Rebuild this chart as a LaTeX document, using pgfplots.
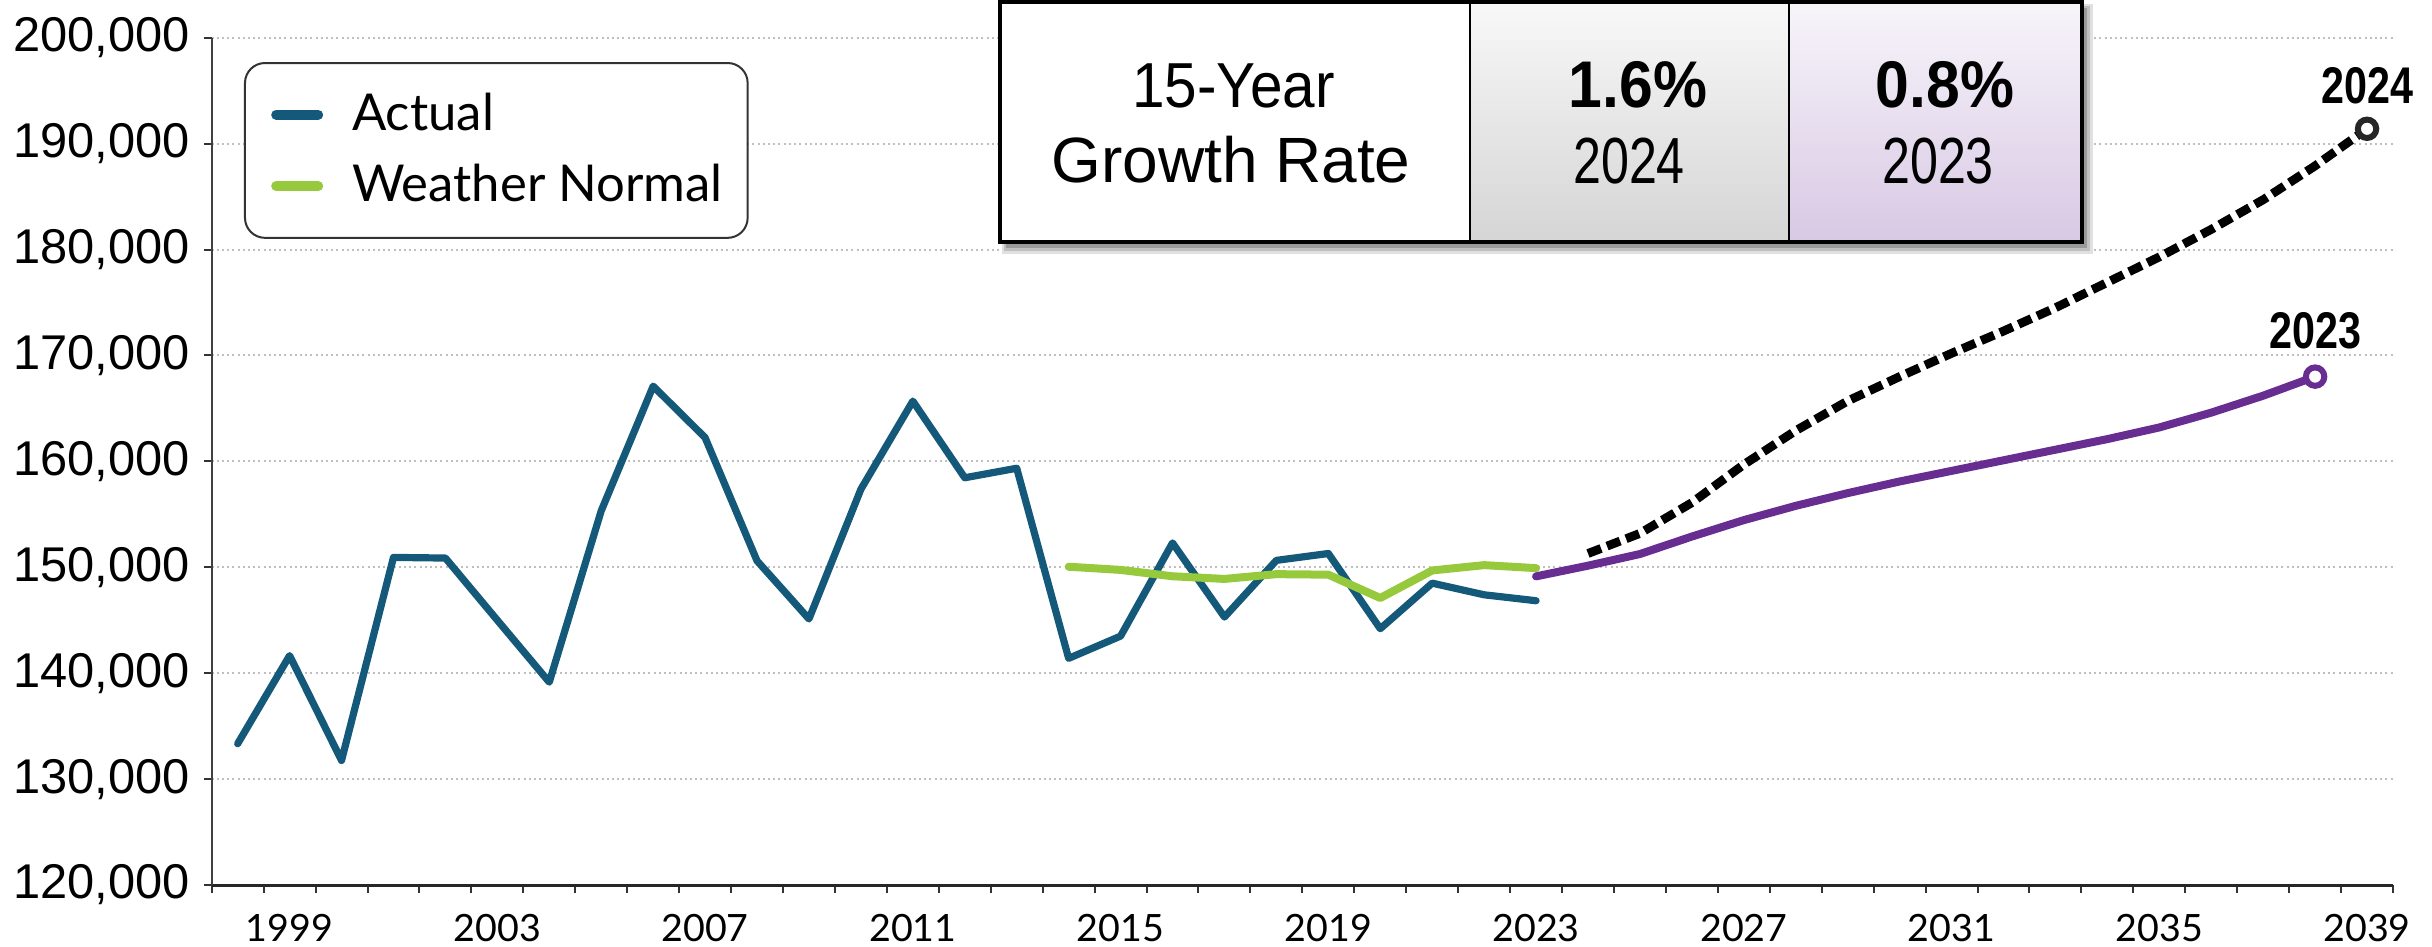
\documentclass[border=0pt]{standalone}
\usepackage{fontspec}
\setmainfont{Liberation Sans}
\newfontfamily\latofont{Lato}
\newfontfamily\condbold[FakeStretch=0.8]{Liberation Sans Bold}
\newfontfamily\narrowfont[FakeStretch=0.77]{Liberation Sans}
\newfontfamily\semifont[FakeStretch=0.92]{Liberation Sans}
\usepackage{pgfplots}
\pgfplotsset{compat=1.18}
\definecolor{actual}{RGB}{20,89,122}
\definecolor{wnormal}{RGB}{151,201,61}
\definecolor{fcpurple}{RGB}{104,45,145}
\definecolor{ctop}{RGB}{248,248,248}
\definecolor{cbot}{RGB}{213,213,213}
\definecolor{ptop}{RGB}{247,245,250}
\definecolor{pbot}{RGB}{216,200,228}
\begin{document}
\begin{tikzpicture}
\useasboundingbox (0,0) rectangle (608pt,236.5pt);
\begin{axis}[
  at={(52.925pt,15.25pt)}, anchor=south west,
  scale only axis, width=545.33pt, height=211.83pt,
  xmin=1997.5, xmax=2039.5, ymin=120000, ymax=200000,
  axis x line*=bottom, axis y line*=left,
  x axis line style={-, line width=0.75pt, color=black!85},
  y axis line style={-, line width=0.5pt, color=black!75},
  xtick={1997.5,1998.5,1999.5,2000.5,2001.5,2002.5,2003.5,2004.5,2005.5,2006.5,2007.5,2008.5,2009.5,2010.5,2011.5,2012.5,2013.5,2014.5,2015.5,2016.5,2017.5,2018.5,2019.5,2020.5,2021.5,2022.5,2023.5,2024.5,2025.5,2026.5,2027.5,2028.5,2029.5,2030.5,2031.5,2032.5,2033.5,2034.5,2035.5,2036.5,2037.5,2038.5,2039.5},
  xticklabels={},
  extra x ticks={1999,2003,2007,2011,2015,2019,2023,2027,2031,2035,2039},
  extra x tick labels={1999,2003,2007,2011,2015,2019,2023,2027,2031,2035,2039},
  extra x tick style={major tick length=0pt, tick label style={font=\latofont\fontsize{9.4}{11}\selectfont, yshift=-3.9pt}},
  ytick={120000,130000,140000,150000,160000,170000,180000,190000,200000},
  yticklabels={{120,000},{130,000},{140,000},{150,000},{160,000},{170,000},{180,000},{190,000},{200,000}},
  tick align=outside,
  major tick length=2pt,
  tick style={line width=0.5pt, color=black!80},
  ymajorgrids,
  major grid style={line width=0.5pt, color=black!25, dash pattern=on 0.5pt off 0.8pt},
  scaled y ticks=false,
  yticklabel style={font=\fontsize{12.2}{14}\selectfont},
  clip=false,
  legend style={at={(0.0148,0.9713)}, anchor=north west, draw=black!80, line width=0.5pt,
    rounded corners=5pt, inner xsep=4.2pt, inner ysep=5.5pt,
    font=\latofont\fontsize{12.7}{14.5}\selectfont, row sep=3pt, fill=white},
  legend cell align=left,
  legend image code/.code={\path[draw=none] (0pt,0pt) -- (20.6pt,0pt); \draw[line width=2.5pt, line cap=round, solid] (3.6pt,0pt) -- (14.1pt,0pt);},
]
\addplot[actual, line width=1.8pt, line join=round, line cap=round] table {
x y
1998 133340
1999 141660
2000 131760
2001 150930
2002 150870
2003 145000
2004 139150
2005 155330
2006 167100
2007 162240
2008 150610
2009 145120
2010 157370
2011 165690
2012 158450
2013 159350
2014 141400
2015 143500
2016 152300
2017 145300
2018 150650
2019 151300
2020 144200
2021 148500
2022 147400
2023 146840
};
\addlegendentry{Actual}
\addplot[wnormal, line width=2pt, line join=round, line cap=round] table {
x y
2014 150050
2015 149750
2016 149150
2017 148900
2018 149350
2019 149300
2020 147100
2021 149700
2022 150200
2023 149920
};
\addlegendentry{Weather Normal}
\addplot[fcpurple, line width=2pt, line join=round, line cap=round, forget plot] table {
x y
2023 149140
2024 150150
2025 151250
2026 152900
2027 154450
2028 155800
2029 157000
2030 158100
2031 159100
2032 160100
2033 161100
2034 162100
2035 163200
2036 164600
2037 166200
2038 168000
};
\addplot[black, line width=2.2pt, dash pattern=on 3.5pt off 1.6pt, forget plot] table {
x y
2024 151300
2025 153200
2026 156100
2027 159700
2028 162900
2029 165700
2030 168000
2031 170200
2032 172300
2033 174500
2034 176900
2035 179300
2036 181900
2037 184700
2038 187900
2039 191400
};
\addplot[only marks, mark=*, mark size=2.3pt, mark options={fill=white, draw=fcpurple, line width=1.5pt, solid}, forget plot] coordinates {(2038,168000)};
\addplot[only marks, mark=*, mark size=2.3pt, mark options={fill=white, draw=black!85, line width=1.5pt, solid}, forget plot] coordinates {(2039,191400)};
\node[anchor=base, yshift=6.3pt, font=\condbold\fontsize{12.9}{15}\selectfont] at (axis cs:2039,191400) {2024};
\node[anchor=base, yshift=7.1pt, font=\condbold\fontsize{12.9}{15}\selectfont] at (axis cs:2038,168000) {2023};
\end{axis}
\begin{scope}[x=0.25pt, y=0.25pt]
  \fill[black!12] (1002,942) rectangle (2093,692);
  \fill[black!25] (1004,940) rectangle (2090,695);
  \fill[black!40] (1006,938) rectangle (2087,698);
  \fill[white] (999.5,944) rectangle (1470,704);
  \shade[top color=ctop, bottom color=cbot] (1470,944) rectangle (1789,704);
  \shade[top color=ptop, bottom color=pbot] (1789,944) rectangle (2082,704);
  \draw[line width=0.5pt] (1470,944) -- (1470,704);
  \draw[line width=0.5pt] (1789,944) -- (1789,704);
  \draw[line width=1pt] (999.5,944) rectangle (2082,704);
  \node[anchor=base, inner sep=0pt, font=\semifont\fontsize{15.9}{19}\selectfont] at (1233.5,839) {15-Year};
  \node[anchor=base, inner sep=0pt, font=\fontsize{16}{19}\selectfont] at (1231,764) {Growth Rate};
  \node[anchor=base, inner sep=0pt, font=\semifont\bfseries\fontsize{16.5}{19}\selectfont] at (1638,839) {1.6\%};
  \node[anchor=base, inner sep=0pt, font=\narrowfont\fontsize{16.3}{19}\selectfont] at (1629,763) {2024};
  \node[anchor=base, inner sep=0pt, font=\semifont\bfseries\fontsize{16.5}{19}\selectfont] at (1945,839) {0.8\%};
  \node[anchor=base, inner sep=0pt, font=\narrowfont\fontsize{16.3}{19}\selectfont] at (1938,763) {2023};
\end{scope}
\end{tikzpicture}
\end{document}
